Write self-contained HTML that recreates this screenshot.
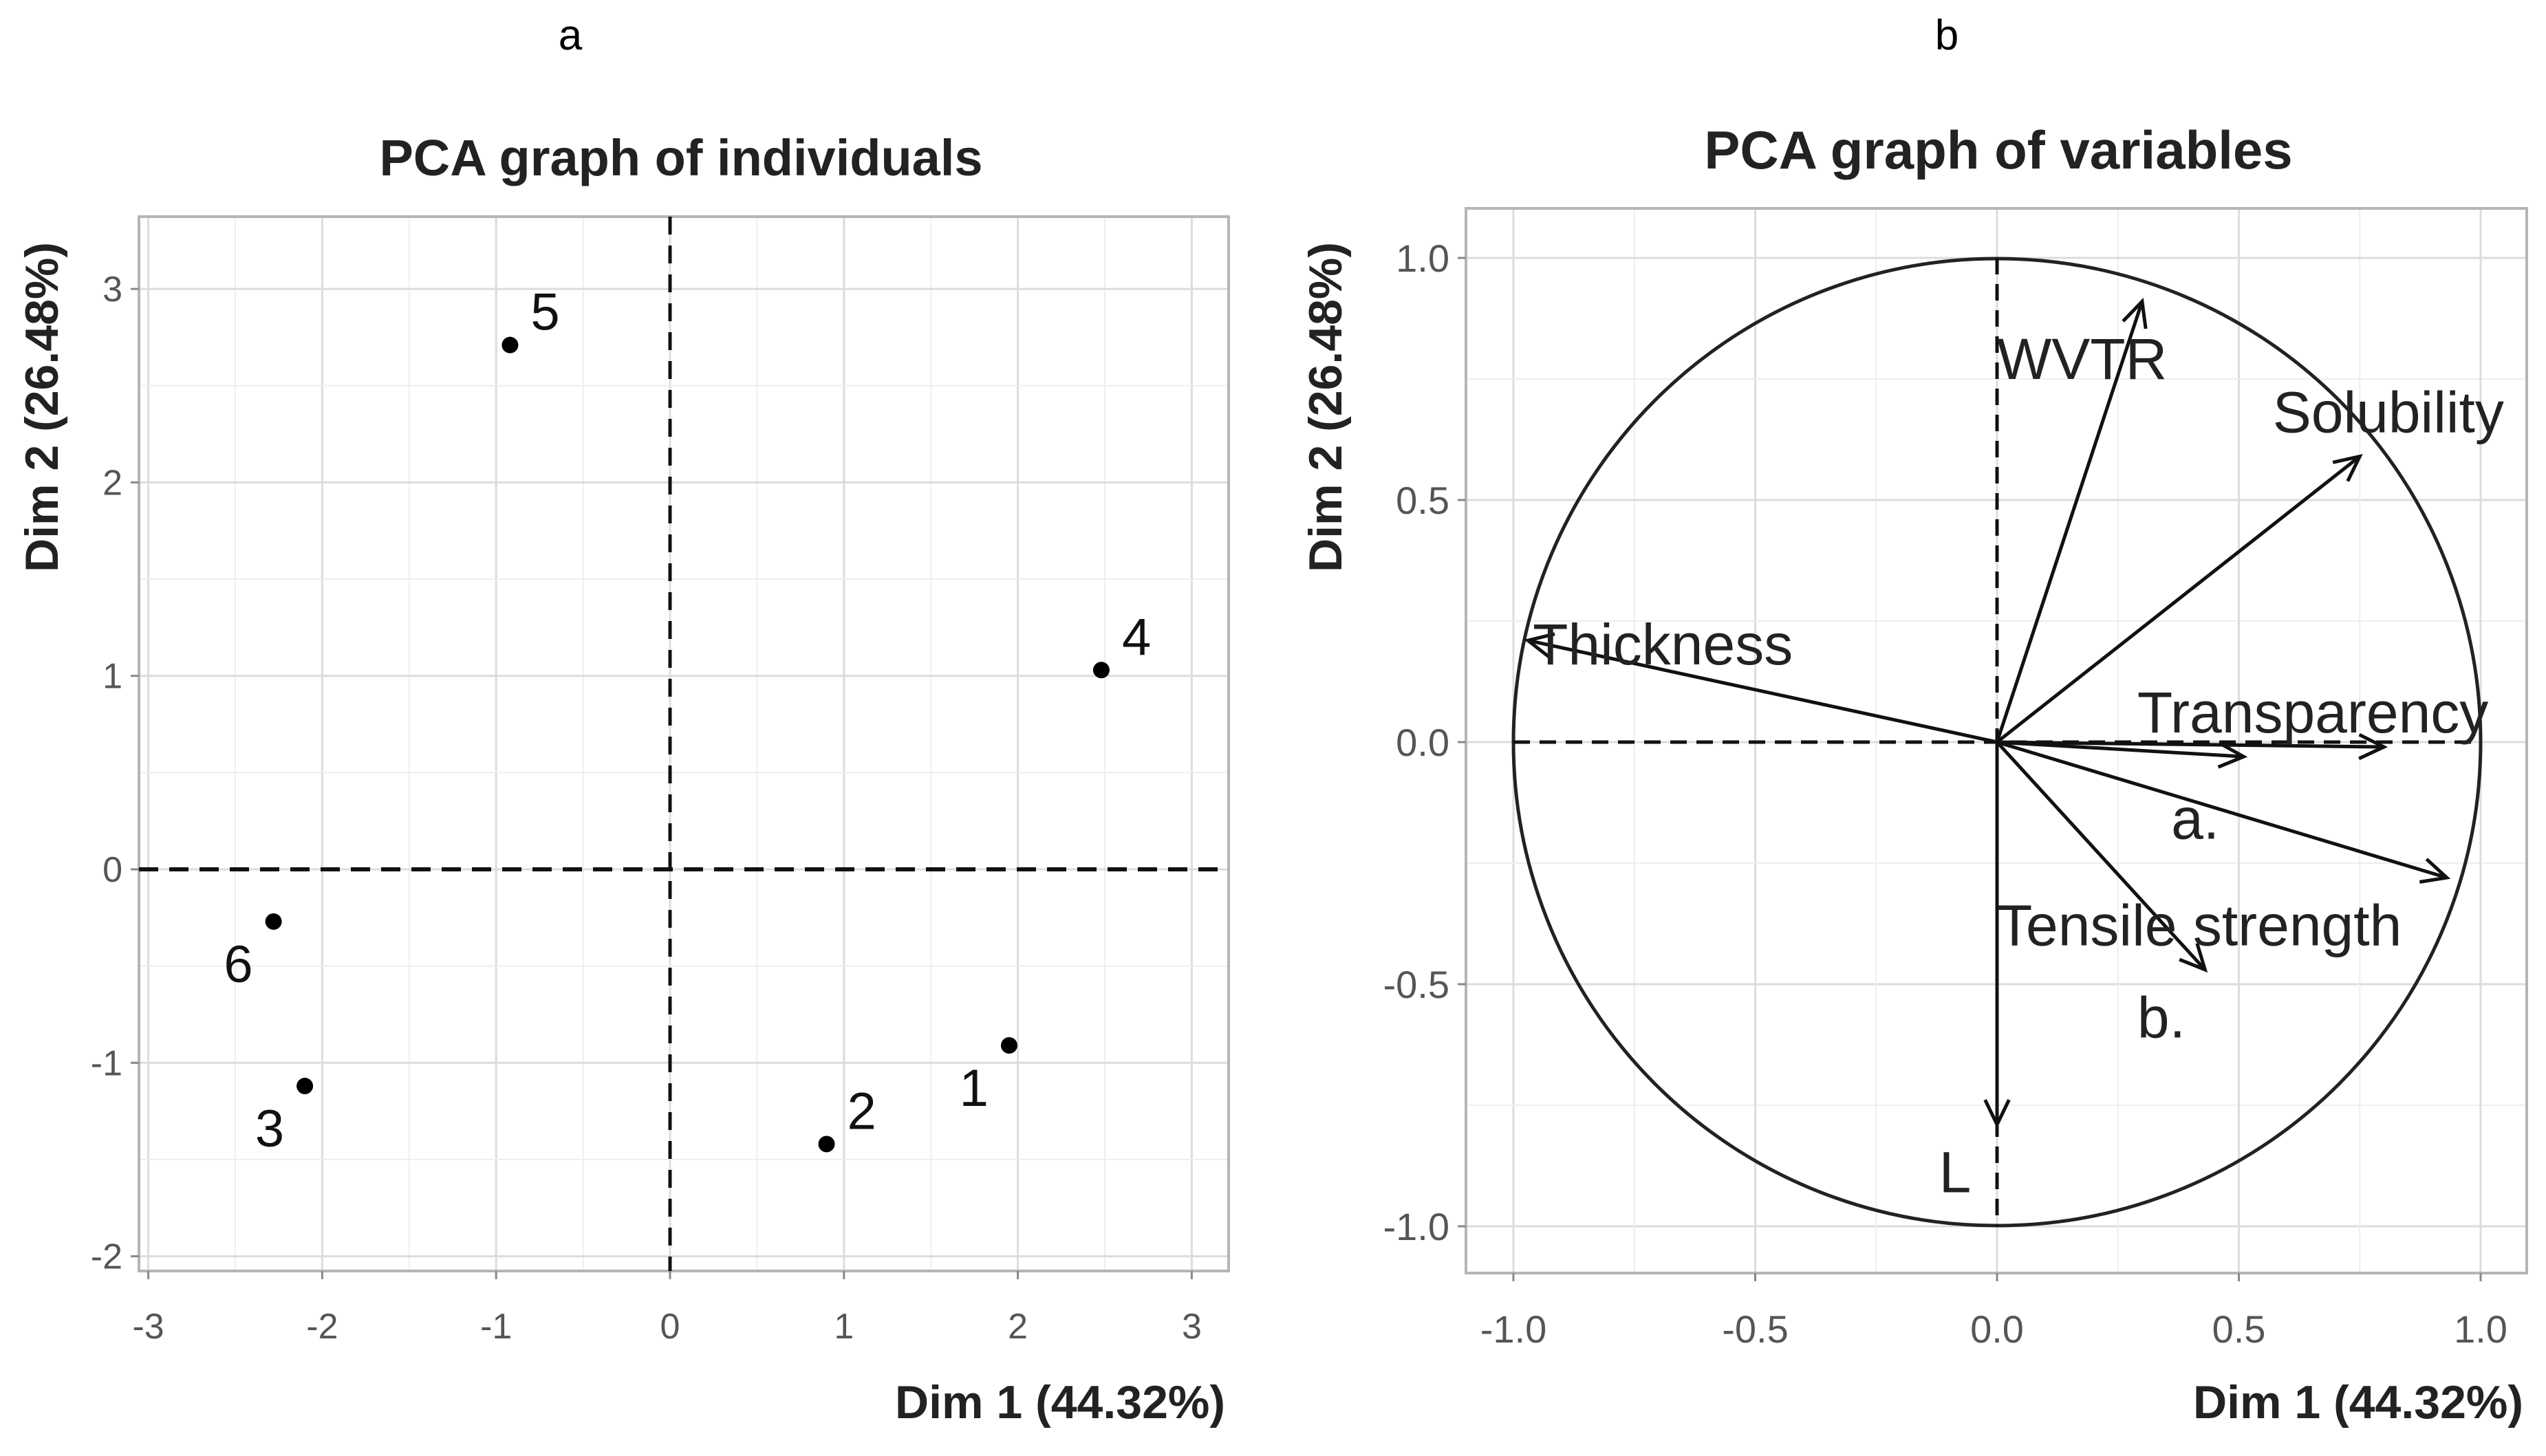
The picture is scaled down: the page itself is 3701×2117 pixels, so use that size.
<!DOCTYPE html>
<html><head><meta charset="utf-8"><style>
html,body{margin:0;padding:0;background:#fff;}
svg{display:block;}
text{font-family:"Liberation Sans",sans-serif;}
</style></head><body>
<svg id="c" width="3701" height="2117" xmlns="http://www.w3.org/2000/svg"></svg>
<script>
// ---- data: individuals ----
const indLabels = ["1","2","3","4","5","6"];
const indX = [1.95, 0.90, -2.10, 2.48, -0.92, -2.28];
const indY = [-0.91, -1.42, -1.12, 1.03, 2.71, -0.27];
const indLabelPos = ["ll","ur","ll","ur","ur","ll"];
const indTicksX = [-3,-2,-1,0,1,2,3];
const indTicksY = [-2,-1,0,1,2,3];
// ---- data: variables ----
const varNames = ["WVTR","Solubility","Thickness","Transparency","a.","Tensile strength","b.","L"];
const varX = [0.30, 0.75, -0.97, 0.80, 0.93, 0.43, 0.51, 0.0];
const varY = [0.91, 0.59, 0.21, -0.01, -0.28, -0.47, -0.03, -0.79];
const varLabelX = [0.0, 0.57, -0.96, 0.29, 0.36, 0.0, 0.29, -0.12];
const varLabelY = [0.79, 0.68, 0.20, 0.06, -0.16, -0.38, -0.57, -0.89];
const varTicks = [-1.0,-0.5,0.0,0.5,1.0];
const varTickLabels = ["-1.0","-0.5","0.0","0.5","1.0"];

const svg = document.getElementById('c');
const NS = 'http://www.w3.org/2000/svg';
function el(tag, attrs, parent, txt){
  const e = document.createElementNS(NS, tag);
  for (const k in attrs) e.setAttribute(k, attrs[k]);
  if (txt !== undefined) e.textContent = txt;
  (parent || svg).appendChild(e);
  return e;
}

let t;
t = el('text',{x:829,y:72,'font-size':62,'text-anchor':'middle','font-family':'Liberation Serif, serif'},svg,'a');
 
t = el('text',{x:2830,y:72,'font-size':62,'text-anchor':'middle','font-family':'Liberation Serif, serif'},svg,'b');
 

// ---------- Panel A ----------
const A = {l:202, r:1786, t:315, b:1848};
const ax = v => 974 + v*252.8;
const ay = v => 1264 - v*281.3;
const gA = el('g',{});  
t = el('text',{x:990,y:255,'font-size':74,'font-weight':'bold','text-anchor':'middle',fill:'#222'},gA,'PCA graph of individuals');
 
for (let v=-3; v<=3.01; v+=0.5){
  const x=ax(v); if (x<A.l||x>A.r) continue;
  const g=el('line',{x1:x,x2:x,y1:A.t,y2:A.b,stroke:Number.isInteger(v)?'#dcdcdc':'#eeeeee','stroke-width':Number.isInteger(v)?3:2},gA);
   
}
for (let v=-2; v<=3.4; v+=0.5){
  const y=ay(v); if (y<A.t||y>A.b) continue;
  const g=el('line',{x1:A.l,x2:A.r,y1:y,y2:y,stroke:Number.isInteger(v)?'#dcdcdc':'#eeeeee','stroke-width':Number.isInteger(v)?3:2},gA);
   
}
t = el('rect',{x:A.l,y:A.t,width:A.r-A.l,height:A.b-A.t,fill:'none',stroke:'#b5b5b5','stroke-width':4},gA);
 
t = el('line',{x1:A.l,x2:A.r,y1:ay(0),y2:ay(0),stroke:'#111','stroke-width':6,'stroke-dasharray':'28 16'},gA);
 
t = el('line',{x1:ax(0),x2:ax(0),y1:A.t,y2:A.b,stroke:'#111','stroke-width':5,'stroke-dasharray':'26 16'},gA);
 
indTicksX.forEach(v=>{
  const k=el('text',{x:ax(v),y:1946,'font-size':52,fill:'#555','text-anchor':'middle'},gA,String(v));
   
  const m=el('line',{x1:ax(v),x2:ax(v),y1:A.b,y2:A.b+12,stroke:'#888','stroke-width':3},gA);
   
});
indTicksY.forEach(v=>{
  const k=el('text',{x:A.l-24,y:ay(v)+18,'font-size':52,fill:'#555','text-anchor':'end'},gA,String(v));
   
  const m=el('line',{x1:A.l-12,x2:A.l,y1:ay(v),y2:ay(v),stroke:'#888','stroke-width':3},gA);
   
});
t = el('text',{x:A.r-5,y:2062,'font-size':68,'font-weight':'bold','text-anchor':'end',fill:'#222'},gA,'Dim 1 (44.32%)');
 
t = el('text',{x:0,y:0,'font-size':68,'font-weight':'bold','text-anchor':'middle',fill:'#222',transform:'translate(84,592) rotate(-90)'},gA,'Dim 2 (26.48%)');
 
indLabels.forEach((lab,i)=>{
  const x=ax(indX[i]), y=ay(indY[i]);
  const p=el('circle',{cx:x,cy:y,r:12,fill:'#000'},gA);
   
  const ur = indLabelPos[i]==='ur';
  const lt=el('text',{x:ur?x+30:x-30,y:ur?y-22:y+88,'font-size':76,'text-anchor':ur?'start':'end',fill:'#111'},gA,lab);
   
});

// ---------- Panel B ----------
const B = {l:2131, r:3673, t:303, b:1851};
const bx = v => 2903 + v*703;
const by = v => 1079 - v*704;
const gB = el('g',{});  
t = el('text',{x:2905,y:245,'font-size':78,'font-weight':'bold','text-anchor':'middle',fill:'#222'},gB,'PCA graph of variables');
 
for (let v=-1.25; v<=1.26; v+=0.25){
  const major = Math.abs(v*2-Math.round(v*2))<1e-6;
  const x=bx(v);
  if (x>B.l && x<B.r){
    const g=el('line',{x1:x,x2:x,y1:B.t,y2:B.b,stroke:major?'#dcdcdc':'#eeeeee','stroke-width':major?3:2},gB);
     
  }
  const y=by(v);
  if (y>B.t && y<B.b){
    const g=el('line',{x1:B.l,x2:B.r,y1:y,y2:y,stroke:major?'#dcdcdc':'#eeeeee','stroke-width':major?3:2},gB);
     
  }
}
t = el('rect',{x:B.l,y:B.t,width:B.r-B.l,height:B.b-B.t,fill:'none',stroke:'#b5b5b5','stroke-width':4},gB);
 
t = el('circle',{cx:bx(0),cy:by(0),r:703,fill:'none',stroke:'#222','stroke-width':5},gB);
 
t = el('line',{x1:bx(-1),x2:bx(1),y1:by(0),y2:by(0),stroke:'#111','stroke-width':5,'stroke-dasharray':'24 14'},gB);
 
t = el('line',{x1:bx(0),x2:bx(0),y1:by(1),y2:by(-1),stroke:'#111','stroke-width':5,'stroke-dasharray':'24 14'},gB);
 
varTicks.forEach((v,i)=>{
  const k=el('text',{x:bx(v),y:1952,'font-size':56,fill:'#555','text-anchor':'middle'},gB,varTickLabels[i]);
   
  const k2=el('text',{x:B.l-24,y:by(v)+20,'font-size':56,fill:'#555','text-anchor':'end'},gB,varTickLabels[i]);
   
  const m=el('line',{x1:bx(v),x2:bx(v),y1:B.b,y2:B.b+12,stroke:'#888','stroke-width':3},gB);
   
  const m2=el('line',{x1:B.l-12,x2:B.l,y1:by(v),y2:by(v),stroke:'#888','stroke-width':3},gB);
   
});
t = el('text',{x:B.r-5,y:2062,'font-size':68,'font-weight':'bold','text-anchor':'end',fill:'#222'},gB,'Dim 1 (44.32%)');
 
t = el('text',{x:0,y:0,'font-size':68,'font-weight':'bold','text-anchor':'middle',fill:'#222',transform:'translate(1950,592) rotate(-90)'},gB,'Dim 2 (26.48%)');
 
varNames.forEach((n,i)=>{
  const x0=bx(0), y0=by(0), x1=bx(varX[i]), y1=by(varY[i]);
  const slug=n.toLowerCase().replace(/[^a-z]+/g,'-').replace(/-$/,'');
  const ln=el('line',{x1:x0,y1:y0,x2:x1,y2:y1,stroke:'#111','stroke-width':5},gB);
   
  const ang=Math.atan2(y1-y0,x1-x0), L=40, s=0.45;
  const hd=el('polyline',{points:`${x1-L*Math.cos(ang-s)},${y1-L*Math.sin(ang-s)} ${x1},${y1} ${x1-L*Math.cos(ang+s)},${y1-L*Math.sin(ang+s)}`,fill:'none',stroke:'#111','stroke-width':5},gB);
   
  const lt=el('text',{x:bx(varLabelX[i]),y:by(varLabelY[i])+28,'font-size':84,fill:'#222'},gB,n);
   
});
</script>
</body></html>
